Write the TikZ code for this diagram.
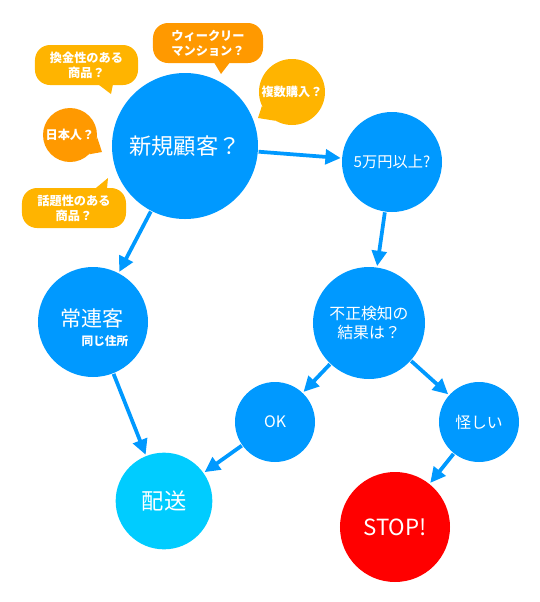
\documentclass[tikz,border=0pt]{standalone}
\usepackage{fontspec}
\setmainfont{Noto Sans CJK JP}
\usepackage{tikz}
\usetikzlibrary{arrows.meta,calc}
\definecolor{skyblue}{RGB}{0,153,255}
\definecolor{cyanball}{RGB}{0,204,255}
\definecolor{stopred}{RGB}{255,0,0}
\definecolor{amber}{RGB}{255,180,0}
\definecolor{deeporange}{RGB}{255,153,0}
\tikzset{
  ball/.style={circle,fill=skyblue,text=white,inner sep=0pt,align=center},
  bubble/.style={fill=amber,text=white,rounded corners=0.45cm,inner sep=0pt,minimum height=1.2cm,align=center,font=\bfseries\fontsize{10.4}{12.8}\selectfont},
  roundq/.style={circle,fill=amber,text=white,inner sep=0pt,align=center,font=\bfseries\fontsize{10.4}{12.8}\selectfont},
  flow/.style={-{Triangle[length=4.6mm,width=4.4mm]},draw=skyblue,line width=3.2pt,shorten >=1pt,shorten <=0.5pt}
}

\begin{document}
\begin{tikzpicture}[x=0.03cm,y=-0.03cm]
\useasboundingbox (0,0) rectangle (540,602);
\node[ball,minimum size=4.38cm,font=\fontsize{19}{23}\selectfont] (newc) at (185,146) {新規顧客？};
\node[ball,minimum size=3.0cm,font=\fontsize{13}{16}\selectfont] (over5) at (392,162) {5万円以上?};
\node[ball,minimum size=3.3cm] (regc) at (93,322) {};
\node[text=white,font=\fontsize{18}{21}\selectfont] (regname) at (92,318) {常連客};
\node[text=white,font=\bfseries\fontsize{10}{12}\selectfont] (regnote) at (105,341) {同じ住所};
\node[ball,minimum size=3.36cm,font=\fontsize{13.5}{16.5}\selectfont] (check) at (369,323) {不正検知の\\結果は？};
\node[ball,minimum size=2.4cm,font=\fontsize{13.5}{16}\selectfont] (okc) at (275,422) {OK};
\node[ball,minimum size=2.4cm,font=\fontsize{13.5}{16}\selectfont] (susp) at (479,422) {怪しい};
\node[ball,fill=stopred,minimum size=3.3cm,font=\fontsize{19}{23}\selectfont] (stopc) at (395,527) {STOP!};
\node[ball,fill=cyanball,minimum size=2.9cm,font=\fontsize{19}{23}\selectfont] (ship) at (164,501) {配送};

\node[bubble,minimum width=3.09cm] (qcash) at (86.5,65) {換金性のある\\商品？};
\coordinate (qcashtip) at (111,94);
\fill[amber] ($(qcash.south)+(11.5,-1)$) -- (qcashtip) -- ($(qcash.south)+(26.5,-1)$) -- cycle;
\node[bubble,fill=deeporange,minimum width=3.3cm] (qweek) at (208,43) {ウィークリー\\マンション？};
\coordinate (qweektip) at (221,74);
\fill[deeporange] ($(qweek.south)+(6,-1)$) -- (qweektip) -- ($(qweek.south)+(22,-1)$) -- cycle;
\node[roundq,minimum size=1.98cm] (qmulti) at (292,92) {複数購入？};
\coordinate (qmultitip) at (258,118);
\fill[amber] (qmulti.205) -- (qmultitip) -- (qmulti.240) -- cycle;
\node[roundq,fill=deeporange,minimum size=1.62cm] (qjp) at (70,135) {日本人？};
\coordinate (qjptip) at (102,152);
\fill[deeporange] (qjp.-5) -- (qjptip) -- (qjp.-45) -- cycle;
\node[bubble,minimum width=3.12cm] (qtrend) at (74,208) {話題性のある\\商品？};
\coordinate (qtrendtip) at (108,178);
\fill[amber] ($(qtrend.north)+(21,1)$) -- (qtrendtip) -- ($(qtrend.north)+(33,1)$) -- cycle;

\draw[flow] (newc) -- (over5);
\draw[flow] (newc) -- (regc);
\draw[flow] (over5) -- (check);
\draw[flow] (regc) -- (ship);
\draw[flow] (check) -- (okc);
\draw[flow] (check) -- (susp);
\draw[flow] (okc) -- (ship);
\draw[flow] (susp) -- (stopc);

\end{tikzpicture}
\end{document}
